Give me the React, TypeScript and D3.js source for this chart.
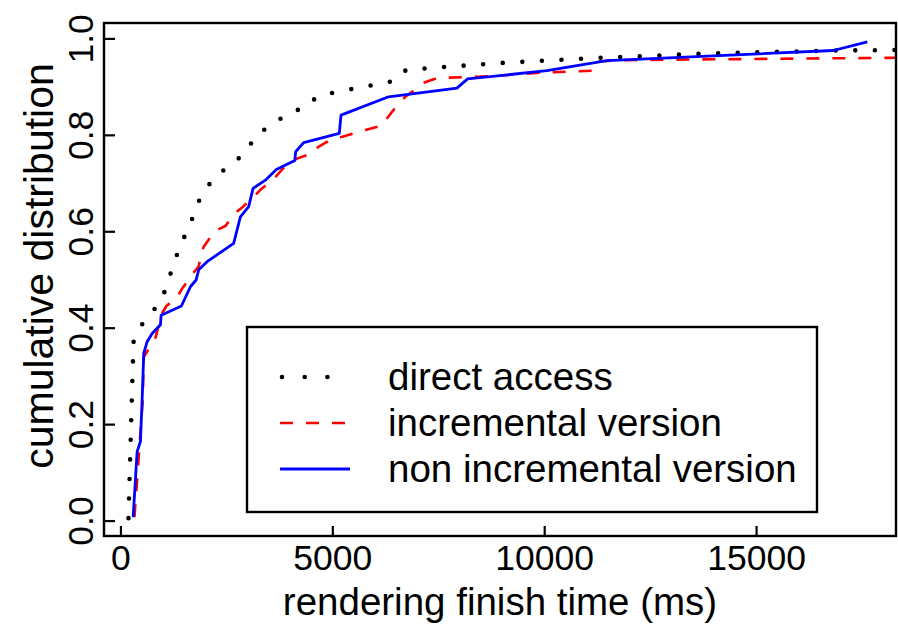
import React from "react";
import * as d3 from "d3";

// ---- data ----
const directMs = [177, 295, 507, 767, 1002, 1144, 1285, 1450, 1639, 1781, 1993, 2276, 2630, 2960, 3172, 3550, 3927, 4351, 4658, 5106, 5554, 6002, 6450, 6733, 8950, 11309, 13667, 16828, 18400];
const directP = [0.006, 0.371, 0.409, 0.436, 0.469, 0.506, 0.544, 0.581, 0.616, 0.654, 0.689, 0.718, 0.741, 0.766, 0.799, 0.822, 0.844, 0.859, 0.882, 0.89, 0.898, 0.905, 0.913, 0.936, 0.95, 0.961, 0.969, 0.976, 0.977];

const incMs = [318, 382, 460, 514, 538, 814, 861, 979, 1073, 1333, 1450, 1710, 1828, 1946, 2064, 2182, 2465, 2700, 2866, 3125, 3290, 3573, 3691, 3950, 4068, 4517, 4658, 4988, 5224, 5767, 6120, 6238, 6285, 6521, 6710, 6993, 7134, 7465, 8172, 8785, 9894, 11144, 11231, 11781, 18400];
const incP = [0.008, 0.085, 0.183, 0.251, 0.34, 0.38, 0.396, 0.432, 0.446, 0.465, 0.483, 0.515, 0.527, 0.568, 0.583, 0.6, 0.612, 0.639, 0.651, 0.672, 0.687, 0.707, 0.718, 0.743, 0.749, 0.763, 0.776, 0.793, 0.797, 0.811, 0.819, 0.826, 0.836, 0.863, 0.88, 0.898, 0.909, 0.919, 0.921, 0.923, 0.93, 0.934, 0.953, 0.956, 0.961];

const nonIncMs = [288, 382, 460, 500, 538, 618, 736, 932, 948, 1427, 1639, 1774, 1835, 2033, 2660, 2818, 3014, 3118, 3408, 3667, 4104, 4123, 4311, 5153, 5193, 6316, 7929, 8179, 10052, 11467, 16811, 17613];
const nonIncP = [0.008, 0.144, 0.165, 0.251, 0.348, 0.372, 0.389, 0.407, 0.427, 0.446, 0.486, 0.5, 0.521, 0.538, 0.576, 0.631, 0.652, 0.69, 0.707, 0.729, 0.748, 0.766, 0.785, 0.804, 0.842, 0.88, 0.898, 0.917, 0.934, 0.955, 0.976, 0.994];

const xTicks = [0, 5000, 10000, 15000];
const yTicks = [0, 0.2, 0.4, 0.6, 0.8, 1.0];
const legendLabels = ["direct access", "incremental version", "non incremental version"];

const W = 898, H = 628;
const L = 104, R = 896, T = 23, B = 536;
const FONT = "'Liberation Sans', Arial, Helvetica, sans-serif";

export default function App() {
  const x = d3.scaleLinear().domain([-400, 18290]).range([L, R]);
  const y = d3.scaleLinear().domain([-0.031, 1.033]).range([B, T]);
  const line = d3.line<[number, number]>().x(d => x(d[0])).y(d => y(d[1]));
  const zip = (a: number[], b: number[]) => a.map((v, i) => [v, b[i]] as [number, number]);

  const series = [
    { d: line(zip(directMs, directP)), stroke: "#000", w: 4.6, dash: "0 19.6", cap: "round" },
    { d: line(zip(incMs, incP)), stroke: "#ff0000", w: 2.6, dash: "13 13", cap: "butt" },
    { d: line(zip(nonIncMs, nonIncP)), stroke: "#0000ff", w: 2.8, dash: "none", cap: "butt" },
  ];

  const legY = [377, 423, 469];

  return (
    <svg width={W} height={H} style={{ position: "absolute", left: 0, top: 0, background: "#fff" }} fontFamily={FONT}>
      <defs>
        <clipPath id="plotclip">
          <rect x={L} y={T} width={R - L} height={B - T} />
        </clipPath>
      </defs>
      <rect x={0} y={0} width={W} height={H} fill="#fff" />
      <g clipPath="url(#plotclip)">
        {series.map((s, i) => (
          <path key={i} d={s.d || ""} fill="none" stroke={s.stroke} strokeWidth={s.w}
            strokeDasharray={s.dash} strokeLinecap={s.cap as any} strokeLinejoin="round" />
        ))}
      </g>
      {/* box */}
      <rect x={L} y={T} width={R - L} height={B - T} fill="none" stroke="#000" strokeWidth={2.4} />
      {/* x ticks */}
      {xTicks.map(t => (
        <g key={t}>
          <line x1={x(t)} x2={x(t)} y1={B} y2={B - 10} stroke="#000" strokeWidth={2.2} />
          <text x={x(t)} y={570} textAnchor="middle" fontSize={35.5}>{t}</text>
        </g>
      ))}
      {/* y ticks */}
      {yTicks.map(t => (
        <g key={t}>
          <line x1={L} x2={L + 11} y1={y(t)} y2={y(t)} stroke="#000" strokeWidth={2.2} />
          <text transform={`translate(93,${y(t)}) rotate(-90)`} textAnchor="middle" fontSize={35.5}>{t.toFixed(1)}</text>
        </g>
      ))}
      <text x={500} y={615} textAnchor="middle" fontSize={38.5}>rendering finish time (ms)</text>
      <text transform={`translate(53,266) rotate(-90)`} textAnchor="middle" fontSize={41}>cumulative distribution</text>
      {/* legend */}
      <rect x={247} y={327} width={570} height={185} fill="#fff" stroke="#000" strokeWidth={2.4} />
      {series.map((s, i) => (
        <g key={i}>
          <line x1={i === 0 ? 282 : 280} x2={350} y1={legY[i]} y2={legY[i]} stroke={s.stroke}
            strokeWidth={s.w} strokeDasharray={i === 0 ? "0 22.7" : s.dash} strokeLinecap={s.cap as any} />
          <text x={388} y={legY[i] + 13} fontSize={38.5}>{legendLabels[i]}</text>
        </g>
      ))}
    </svg>
  );
}
